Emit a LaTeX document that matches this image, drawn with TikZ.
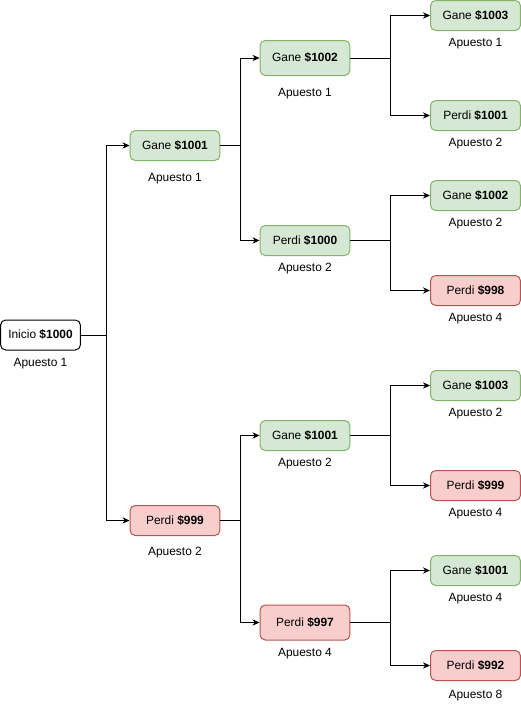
\documentclass[tikz,border=0pt]{standalone}
\usepackage{fontspec}
\setmainfont{Liberation Sans}
\usetikzlibrary{arrows.meta}

\definecolor{ganefill}{HTML}{D5E8D4}
\definecolor{ganedraw}{HTML}{82B366}
\definecolor{perdifill}{HTML}{F8CECC}
\definecolor{perdidraw}{HTML}{B85450}

\begin{document}
\begin{tikzpicture}[x=0.02cm, y=-0.02cm,
                    every node/.style={font=\fontsize{6.8}{8}\selectfont, inner sep=0pt},
                    box/.style={rectangle, rounded corners=3pt, line width=0.57pt,
                                minimum width=1.8cm, minimum height=0.6cm},
                    gane/.style={box, draw=ganedraw, fill=ganefill},
                    perdi/.style={box, draw=perdidraw, fill=perdifill},
                    bet/.style={yshift=-0.03cm},
                    conn/.style={draw, line width=0.57pt, -{Stealth[length=4pt, width=3.6pt]}}]

                    \useasboundingbox (0,0) rectangle (521,704);

                    % Define nodes (start, then each round of bets)
                    \node[box, draw=black, fill=white, minimum width=1.6cm] (ini) at (40.5,335) {Inicio \textbf{\$1000}}; % Root node
                    \node[gane] (g) at (175,145.5) {Gane \textbf{\$1001}}; % Child of ini
                    \node[perdi] (p) at (175,520.5) {Perdi \textbf{\$999}}; % Child of ini
                    \node[gane, minimum height=0.7cm] (gg) at (305,58) {Gane \textbf{\$1002}}; % Child of g
                    \node[gane] (gp) at (305,240.5) {Perdi \textbf{\$1000}}; % Child of g
                    \node[gane] (pg) at (305,435.5) {Gane \textbf{\$1001}}; % Child of p
                    \node[perdi, minimum height=0.7cm] (pp) at (305,622.5) {Perdi \textbf{\$997}}; % Child of p
                    \node[gane] (ggg) at (475.5,15.5) {Gane \textbf{\$1003}}; % Child of gg
                    \node[gane] (ggp) at (475.5,115.5) {Perdi \textbf{\$1001}}; % Child of gg
                    \node[gane] (gpg) at (475.5,195.5) {Gane \textbf{\$1002}}; % Child of gp
                    \node[perdi] (gpp) at (475.5,290.5) {Perdi \textbf{\$998}}; % Child of gp
                    \node[gane] (pgg) at (475.5,385.5) {Gane \textbf{\$1003}}; % Child of pg
                    \node[perdi] (pgp) at (475.5,485.5) {Perdi \textbf{\$999}}; % Child of pg
                    \node[gane] (ppg) at (475.5,570.5) {Gane \textbf{\$1001}}; % Child of pp
                    \node[perdi] (ppp) at (475.5,665.5) {Perdi \textbf{\$992}}; % Child of pp

                    % Bets under the nodes
                    \node[bet] (ini-a) at (40.5,362) {Apuesto 1};
                    \node[bet] (g-a) at (175,177) {Apuesto 1};
                    \node[bet] (p-a) at (175,551) {Apuesto 2};
                    \node[bet] (gg-a) at (305,92) {Apuesto 1};
                    \node[bet] (gp-a) at (305,267) {Apuesto 2};
                    \node[bet] (pg-a) at (305,462) {Apuesto 2};
                    \node[bet] (pp-a) at (305,652) {Apuesto 4};
                    \node[bet] (ggg-a) at (475.5,42) {Apuesto 1};
                    \node[bet] (ggp-a) at (475.5,142) {Apuesto 2};
                    \node[bet] (gpg-a) at (475.5,222) {Apuesto 2};
                    \node[bet] (gpp-a) at (475.5,317) {Apuesto 4};
                    \node[bet] (pgg-a) at (475.5,412) {Apuesto 2};
                    \node[bet] (pgp-a) at (475.5,512) {Apuesto 4};
                    \node[bet] (ppg-a) at (475.5,597) {Apuesto 4};
                    \node[bet] (ppp-a) at (475.5,694) {Apuesto 8};

                    % Define edges
                    \draw[conn] (ini.east) -- ++(25.5,0) |- (g.west);
                    \draw[conn] (ini.east) -- ++(25.5,0) |- (p.west);
                    \draw[conn] (g.east) -- ++(20,0) |- (gg.west);
                    \draw[conn] (g.east) -- ++(20,0) |- (gp.west);
                    \draw[conn] (p.east) -- ++(20,0) |- (pg.west);
                    \draw[conn] (p.east) -- ++(20,0) |- (pp.west);
                    \draw[conn] (gg.east) -- ++(40,0) |- (ggg.west);
                    \draw[conn] (gg.east) -- ++(40,0) |- (ggp.west);
                    \draw[conn] (gp.east) -- ++(40,0) |- (gpg.west);
                    \draw[conn] (gp.east) -- ++(40,0) |- (gpp.west);
                    \draw[conn] (pg.east) -- ++(40,0) |- (pgg.west);
                    \draw[conn] (pg.east) -- ++(40,0) |- (pgp.west);
                    \draw[conn] (pp.east) -- ++(40,0) |- (ppg.west);
                    \draw[conn] (pp.east) -- ++(40,0) |- (ppp.west);
                \end{tikzpicture}
\end{document}
